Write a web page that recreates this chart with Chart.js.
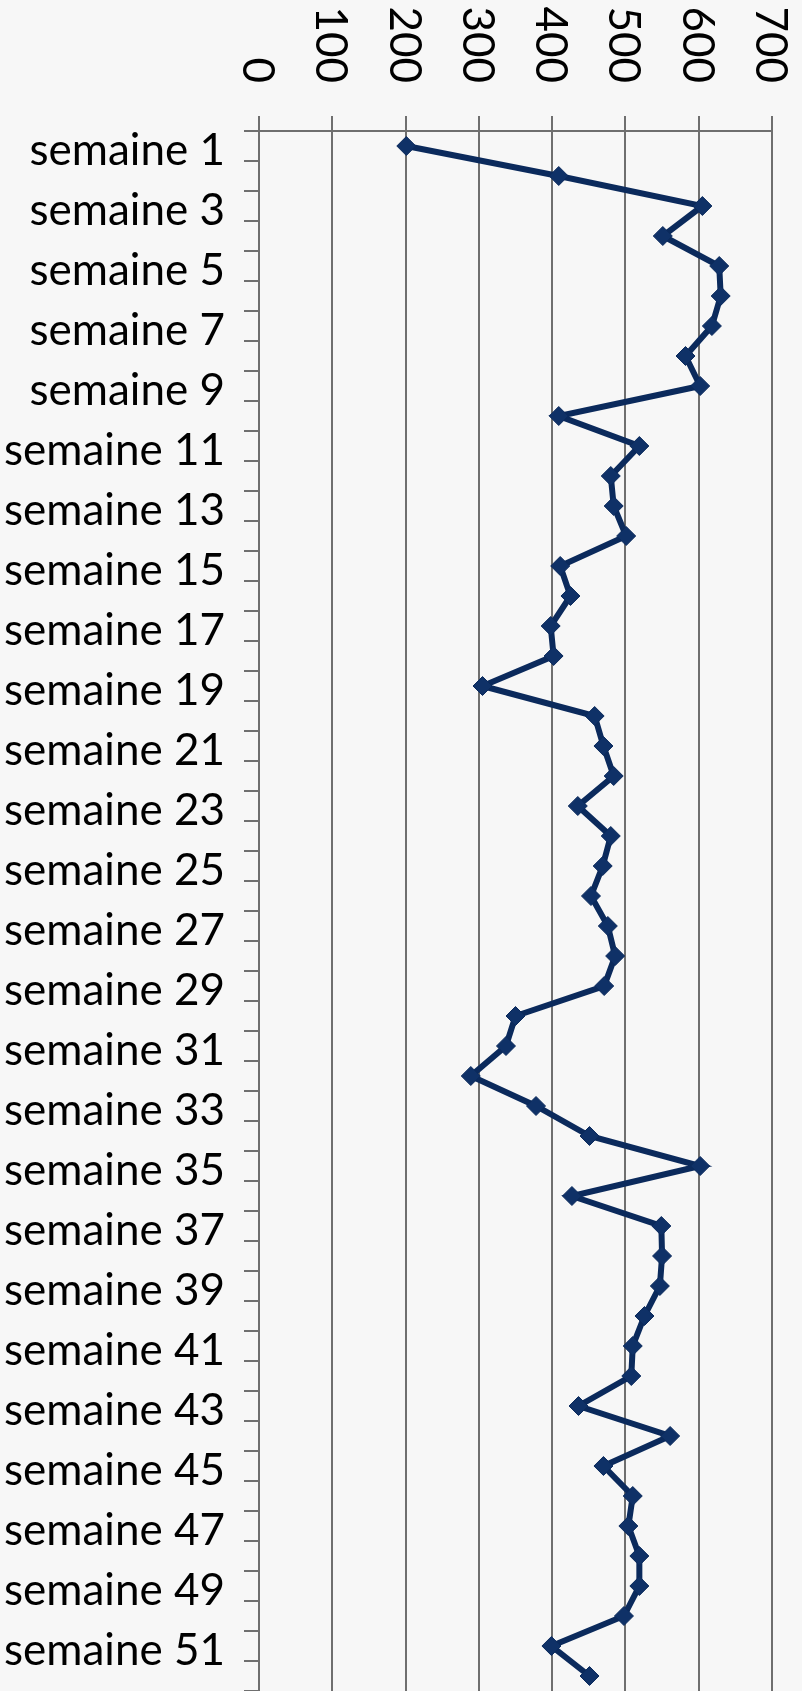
<!DOCTYPE html>
<html lang="fr">
<head>
<meta charset="UTF-8">
<title>semaines</title>
<script src="https://cdn.jsdelivr.net/npm/chart.js"></script>
<style>
  html, body { margin: 0; padding: 0; background: #f7f7f7; }
  canvas { display: block; }
</style>
</head>
<body>
<canvas id="weekChart" width="802" height="1691"></canvas>

<script>
// semaines 1..52
const weeks = [];
for (let i = 1; i <= 52; i++) weeks.push('semaine ' + i);

// values
const values = [
    201, 409, 605, 551, 628, 630, 618, 582, 602, 409,
    519, 480, 484, 501, 411, 425, 398, 402, 305, 458,
    470, 484, 435, 480, 469, 453, 476, 486, 471, 350,
    337, 289, 378, 451, 602, 427, 549, 550, 547, 526,
    510, 508, 436, 561, 470, 510, 504, 519, 519, 498,
    399, 451
];

const valueTicks = [0, 100, 200, 300, 400, 500, 600, 700];

const axisGray = '#6f6f6f';
const lineBlue = '#0b2a5c';
const labelFont = '44px Lato';

// top axis labels, turned a quarter clockwise
const rotatedTicks = {
    id: 'rotatedTicks',
    afterDraw(chart) {
        const ctx = chart.ctx;
        const sx = chart.scales.x;
        ctx.save();
        ctx.font = labelFont;
        ctx.fillStyle = '#000';
        ctx.textAlign = 'right';
        ctx.textBaseline = 'alphabetic';
        valueTicks.forEach(v => {
            ctx.save();
            ctx.translate(sx.getPixelForValue(v), 83);
            ctx.rotate(Math.PI / 2);
            ctx.fillText(String(v), 0, 16);
            ctx.restore();
        });
        ctx.restore();
    }
};

new Chart(document.getElementById('weekChart'), {
    type: 'line',
    data: {
        labels: weeks,
        datasets: [{
            data: values,
            borderColor: lineBlue,
            borderWidth: 6,
            tension: 0,
            pointStyle: 'rectRot',
            pointRadius: 9.5,
            pointBackgroundColor: '#0f3167',
            pointBorderColor: lineBlue,
            pointBorderWidth: 1,
            clip: false
        }]
    },
    options: {
        indexAxis: 'y',
        responsive: false,
        animation: false,
        devicePixelRatio: 1,
        layout: {
            autoPadding: false,
            padding: { top: 0, right: 30, bottom: 0, left: 0 }
        },
        plugins: {
            legend: { display: false },
            tooltip: { enabled: false }
        },
        scales: {
            x: {
                type: 'linear',
                position: 'top',
                min: 0,
                max: 700,
                afterBuildTicks: scale => {
                    scale.ticks = valueTicks.map(v => ({ value: v }));
                },
                afterFit: scale => {
                    scale.height = 131;
                    scale.paddingLeft = 0;
                    scale.paddingRight = 0;
                },
                ticks: { display: false },
                grid: { color: axisGray, lineWidth: 2, tickLength: 15 },
                border: { color: axisGray, width: 2 }
            },
            y: {
                type: 'category',
                offset: true,
                afterFit: scale => {
                    scale.width = 259;
                    scale.paddingTop = 0;
                    scale.paddingBottom = 0;
                },
                ticks: {
                    autoSkip: false,
                    padding: 19,
                    color: '#000',
                    font: { family: 'Lato', size: 44, lineHeight: 0.2 },
                    // empty first line nudges the label down a few px
                    callback: function (val, i) {
                        return i % 2 === 0 ? ['', this.getLabelForValue(val)] : '';
                    }
                },
                grid: {
                    offset: true,
                    drawOnChartArea: false,
                    color: axisGray,
                    lineWidth: 2,
                    tickLength: 15
                },
                border: { color: axisGray, width: 2 }
            }
        }
    },
    plugins: [rotatedTicks]
});
</script>
</body>
</html>
